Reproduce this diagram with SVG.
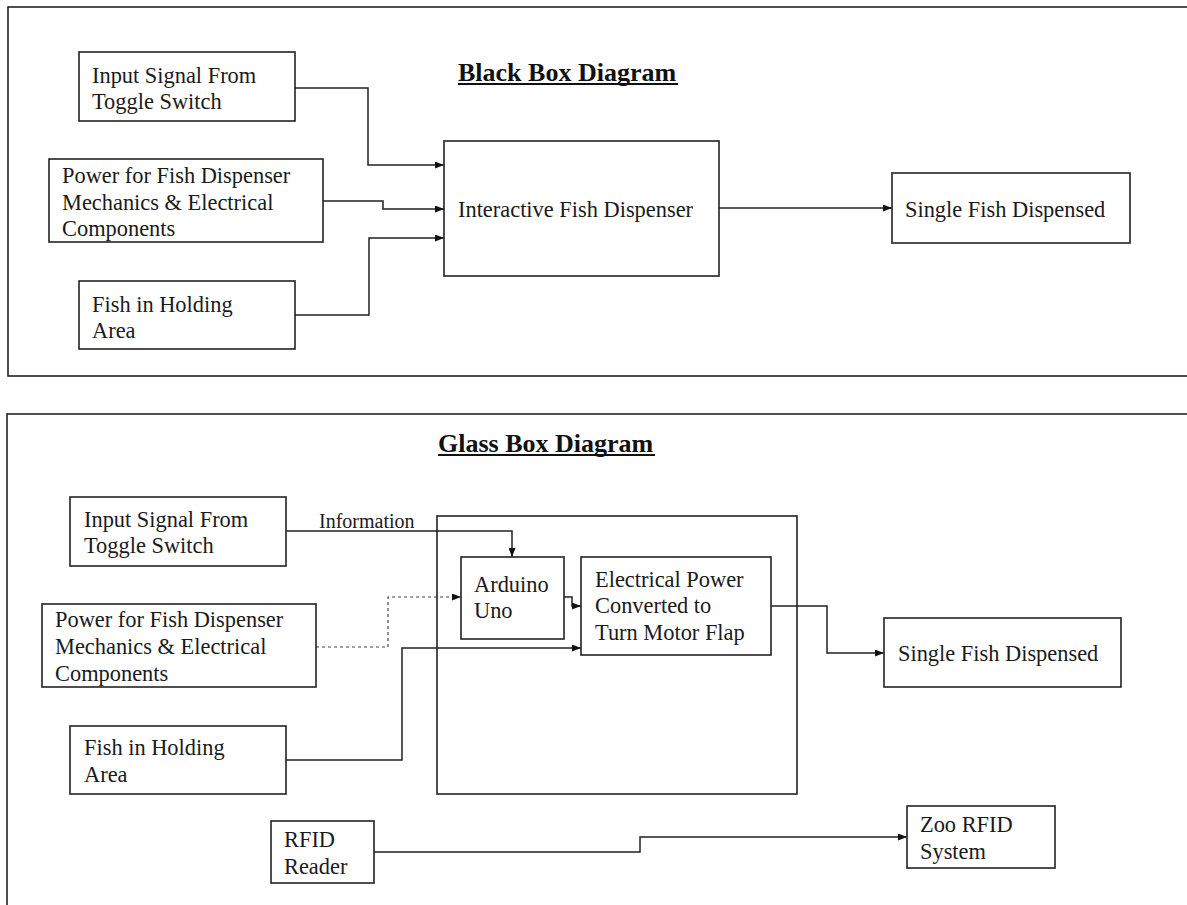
<svg xmlns="http://www.w3.org/2000/svg" width="1187" height="905" viewBox="0 0 1187 905">
<style>
.box{fill:#fff;stroke:#222;stroke-width:1.6}
.frame{fill:none;stroke:#222;stroke-width:1.6}
.t{font-family:"Liberation Serif","Times New Roman",serif;font-size:22.4px;fill:#1a1a1a}
.title{font-family:"Liberation Serif","Times New Roman",serif;font-size:26px;font-weight:bold;fill:#111}
.ul{stroke:#111;stroke-width:1.8}
.c{fill:none;stroke:#222;stroke-width:1.5}
.d{fill:none;stroke:#444;stroke-width:1.2;stroke-dasharray:3 3}
</style>
<defs>
<marker id="ah" viewBox="0 0 9 7" refX="9" refY="3.5" markerWidth="9" markerHeight="7" markerUnits="userSpaceOnUse" orient="auto">
<path d="M0,0 L9,3.5 L0,7 z" fill="#111"/>
</marker>
</defs>
<rect width="1187" height="905" fill="#fff"/>
<g id="frames">
<rect class="frame" x="8" y="7" width="1200" height="369"/>
<rect class="frame" x="7" y="414" width="1200" height="520"/>
</g>
<g id="title-black">
<text class="title" x="458" y="81">Black Box Diagram</text>
<line class="ul" x1="458" y1="84" x2="678" y2="84"/>
</g>
<g id="title-glass">
<text class="title" x="438" y="452">Glass Box Diagram</text>
<line class="ul" x1="438" y1="455" x2="655" y2="455"/>
</g>
<g id="connectors">
<path class="c" d="M295,88 H368 V165 H444" marker-end="url(#ah)"/>
<path class="c" d="M323,201 H383 V209 H444" marker-end="url(#ah)"/>
<path class="c" d="M295,315 H369 V238 H444" marker-end="url(#ah)"/>
<path class="c" d="M719,208 H892" marker-end="url(#ah)"/>
<path class="c" d="M286,531 H512 V557" marker-end="url(#ah)"/>
<path class="d" d="M316,647 H388 V597 H461" marker-end="url(#ah)"/>
<path class="c" d="M286,760 H402 V648 H581" marker-end="url(#ah)"/>
<path class="c" d="M564,597 H572 V606 H581" marker-end="url(#ah)"/>
<path class="c" d="M771,606 H827 V653 H884" marker-end="url(#ah)"/>
<path class="c" d="M374,852 H640 V837 H907" marker-end="url(#ah)"/>
<text class="t" x="319" y="528" style="font-size:20px">Information</text>
</g>
<g id="bb-input">
<rect class="box" x="79" y="52" width="216" height="69"/>
<text class="t" x="92" y="83">Input Signal From</text>
<text class="t" x="92" y="109">Toggle Switch</text>
</g>
<g id="bb-power">
<rect class="box" x="49" y="159" width="274" height="83"/>
<text class="t" x="62" y="183">Power for Fish Dispenser</text>
<text class="t" x="62" y="210">Mechanics &amp; Electrical</text>
<text class="t" x="62" y="236">Components</text>
</g>
<g id="bb-fish">
<rect class="box" x="79" y="281" width="216" height="68"/>
<text class="t" x="92" y="312">Fish in Holding</text>
<text class="t" x="92" y="338">Area</text>
</g>
<g id="bb-dispenser">
<rect class="box" x="444" y="141" width="275" height="135"/>
<text class="t" x="458" y="217">Interactive Fish Dispenser</text>
</g>
<g id="bb-single">
<rect class="box" x="892" y="173" width="238" height="70"/>
<text class="t" x="905" y="217">Single Fish Dispensed</text>
</g>
<g id="gb-input">
<rect class="box" x="70" y="497" width="216" height="69"/>
<text class="t" x="84" y="527">Input Signal From</text>
<text class="t" x="84" y="553">Toggle Switch</text>
</g>
<g id="gb-power">
<rect class="box" x="42" y="604" width="274" height="83"/>
<text class="t" x="55" y="627">Power for Fish Dispenser</text>
<text class="t" x="55" y="654">Mechanics &amp; Electrical</text>
<text class="t" x="55" y="681">Components</text>
</g>
<g id="gb-fish">
<rect class="box" x="70" y="726" width="216" height="68"/>
<text class="t" x="84" y="755">Fish in Holding</text>
<text class="t" x="84" y="782">Area</text>
</g>
<g id="gb-container">
<rect class="frame" x="437" y="516" width="360" height="278"/>
</g>
<g id="gb-arduino">
<rect class="box" x="461" y="557" width="103" height="82"/>
<text class="t" x="474" y="592">Arduino</text>
<text class="t" x="474" y="618">Uno</text>
</g>
<g id="gb-electrical">
<rect class="box" x="581" y="557" width="190" height="98"/>
<text class="t" x="595" y="587">Electrical Power</text>
<text class="t" x="595" y="613">Converted to</text>
<text class="t" x="595" y="640">Turn Motor Flap</text>
</g>
<g id="gb-single">
<rect class="box" x="884" y="618" width="237" height="69"/>
<text class="t" x="898" y="661">Single Fish Dispensed</text>
</g>
<g id="gb-rfid">
<rect class="box" x="271" y="821" width="103" height="62"/>
<text class="t" x="284" y="847">RFID</text>
<text class="t" x="284" y="874">Reader</text>
</g>
<g id="gb-zoo">
<rect class="box" x="907" y="806" width="148" height="62"/>
<text class="t" x="920" y="832">Zoo RFID</text>
<text class="t" x="920" y="859">System</text>
</g>
</svg>
